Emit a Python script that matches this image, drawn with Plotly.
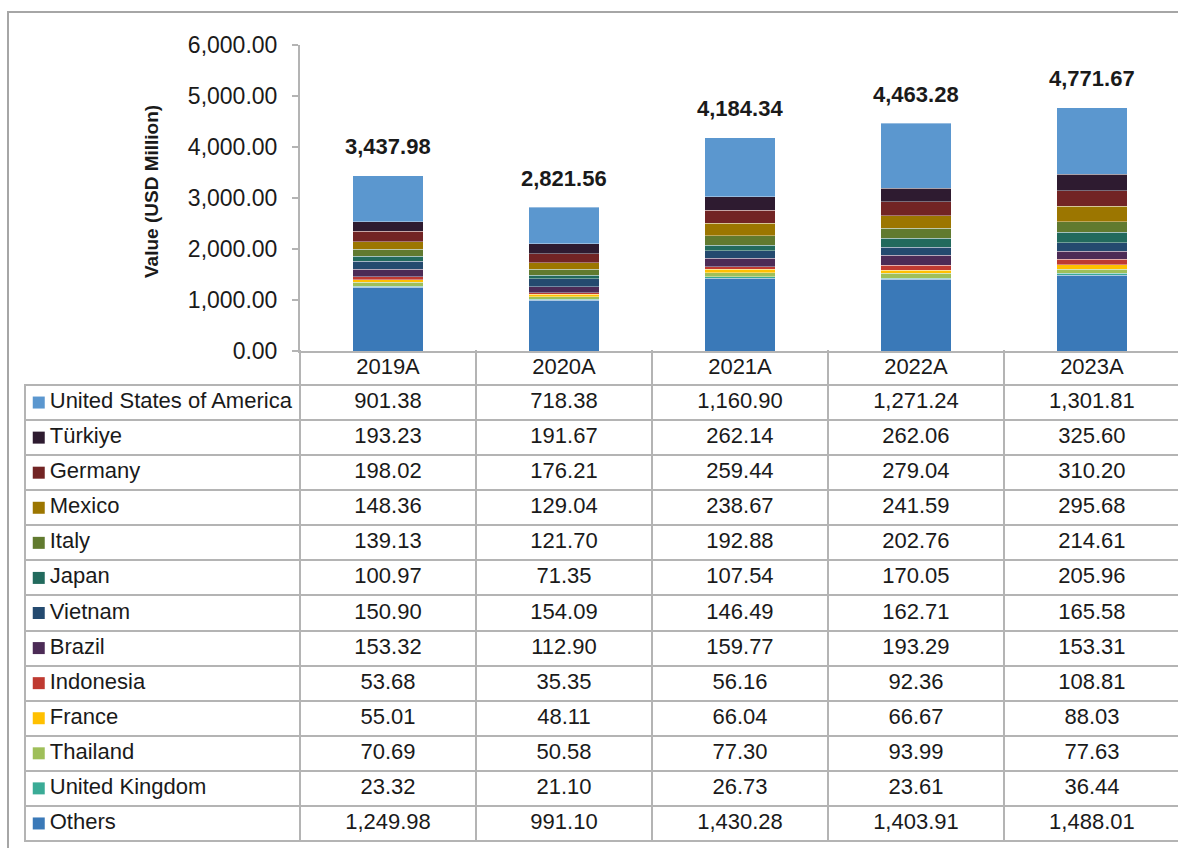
import plotly.graph_objects as go

# ---- data -------------------------------------------------------------
years = ["2019A", "2020A", "2021A", "2022A", "2023A"]

# table order (top to bottom)
countries = [
    "United States of America", "Türkiye", "Germany", "Mexico", "Italy",
    "Japan", "Vietnam", "Brazil", "Indonesia", "France", "Thailand",
    "United Kingdom", "Others",
]

usa = [901.38, 718.38, 1160.90, 1271.24, 1301.81]
turkiye = [193.23, 191.67, 262.14, 262.06, 325.60]
germany = [198.02, 176.21, 259.44, 279.04, 310.20]
mexico = [148.36, 129.04, 238.67, 241.59, 295.68]
italy = [139.13, 121.70, 192.88, 202.76, 214.61]
japan = [100.97, 71.35, 107.54, 170.05, 205.96]
vietnam = [150.90, 154.09, 146.49, 162.71, 165.58]
brazil = [153.32, 112.90, 159.77, 193.29, 153.31]
indonesia = [53.68, 35.35, 56.16, 92.36, 108.81]
france = [55.01, 48.11, 66.04, 66.67, 88.03]
thailand = [70.69, 50.58, 77.30, 93.99, 77.63]
uk = [23.32, 21.10, 26.73, 23.61, 36.44]
others = [1249.98, 991.10, 1430.28, 1403.91, 1488.01]

totals = [3437.98, 2821.56, 4184.34, 4463.28, 4771.67]

series = [usa, turkiye, germany, mexico, italy, japan, vietnam, brazil,
          indonesia, france, thailand, uk, others]

colors = [
    "#5b97cf", "#2e1b30", "#722424", "#9c7600", "#617a2f", "#226a5d",
    "#244a6f", "#4c2b56", "#bf3a31", "#ffc000", "#9fbf59", "#3aab96",
    "#3a79b8",
]

# ---- styling ----------------------------------------------------------
W, H = 1178, 848
LINE = "#b4b4b4"
TXT = "#1a1a1a"
FONT = "Liberation Sans, Arial, sans-serif"
NARROW = "Liberation Sans Narrow, Arial Narrow, Liberation Sans, sans-serif"

plot_x0 = 300 / W
bars_y = [(H - 351) / H, (H - 45) / H]
table_y = [(H - 841) / H, (H - 385) / H]
label_col = [25 / W, 300 / W]
xrange = [-0.5, 4.489]

fig = go.Figure()

# stacked bars: bottom segment is "Others", top is the USA
for name, vals, col in reversed(list(zip(countries, series, colors))):
    fig.add_trace(go.Bar(
        x=years, y=vals, name=name,
        marker=dict(color=col, line=dict(color="rgba(255,255,255,0.45)", width=0.8)),
        xaxis="x", yaxis="y", hoverinfo="x+y+name",
    ))

# total labels above each stack
for yr, tot in zip(years, totals):
    fig.add_annotation(
        x=yr, y=tot, xref="x", yref="y", text=f"<b>{tot:,.2f}</b>",
        showarrow=False, yanchor="middle", yshift=29,
        font=dict(family=NARROW, size=22, color=TXT),
    )

# data table values
tx, ty, tt = [], [], []
for name, vals in zip(countries, series):
    for yr, v in zip(years, vals):
        tx.append(yr)
        ty.append(name)
        tt.append(f"{v:,.2f}")
fig.add_trace(go.Scatter(
    x=tx, y=ty, text=tt, mode="text", xaxis="x2", yaxis="y2",
    textfont=dict(family=FONT, size=22, color=TXT), hoverinfo="skip",
    cliponaxis=False,
))

# legend keys and row names in the first column
fig.add_trace(go.Scatter(
    x=[0.05] * len(countries), y=countries, mode="markers",
    marker=dict(symbol="square", size=12, color=colors, line=dict(width=0)),
    xaxis="x3", yaxis="y2", hoverinfo="skip",
))
fig.add_trace(go.Scatter(
    x=[0.09] * len(countries), y=countries, text=countries, mode="text",
    textposition="middle right", xaxis="x3", yaxis="y2",
    textfont=dict(family=FONT, size=22, color=TXT), hoverinfo="skip",
    cliponaxis=False,
))

fig.update_layout(
    width=W, height=H, autosize=False,
    margin=dict(l=0, r=0, t=0, b=0, pad=0, autoexpand=False),
    paper_bgcolor="white", plot_bgcolor="white",
    barmode="stack", bargap=0.6, showlegend=False,
    xaxis=dict(
        domain=[plot_x0, 1], range=xrange, type="category",
        categoryorder="array", categoryarray=years,
        showline=True, linecolor=LINE, linewidth=2, ticks="", ticklen=0,
        ticklabelstandoff=-5, automargin=False,
        showgrid=False, zeroline=False, anchor="y",
        tickfont=dict(family=FONT, size=22, color=TXT),
    ),
    yaxis=dict(
        domain=bars_y, range=[0, 6000], dtick=1000, tickformat=",.2f",
        showline=True, linecolor=LINE, linewidth=2,
        ticks="outside", ticklen=6, tickcolor=LINE, tickwidth=2,
        ticklabelstandoff=10, automargin=False,
        showgrid=False, zeroline=False, anchor="x",
        tickfont=dict(family=FONT, size=23, color=TXT),
    ),
    xaxis2=dict(
        domain=[plot_x0, 1], range=xrange, type="category",
        categoryorder="array", categoryarray=years,
        side="top", tickson="boundaries", ticks="outside", ticklen=34,
        tickcolor=LINE, tickwidth=2, showticklabels=False,
        showgrid=True, gridcolor=LINE, gridwidth=2, automargin=False,
        showline=False, zeroline=False, anchor="y2",
    ),
    yaxis2=dict(
        domain=table_y, type="category",
        categoryorder="array", categoryarray=countries,
        range=[len(countries) - 0.5, -0.5],
        tickson="boundaries", ticks="", showticklabels=False,
        showgrid=True, gridcolor=LINE, gridwidth=2, automargin=False,
        showline=False, zeroline=False, anchor="x2",
    ),
    xaxis3=dict(
        domain=label_col, range=[0, 1], showgrid=False, showline=False,
        zeroline=False, showticklabels=False, ticks="", anchor="y2",
        automargin=False,
    ),
    annotations=list(fig.layout.annotations) + [
        dict(
            text="<b>Value (USD Million)</b>", textangle=-90,
            x=152 / W, y=(H - 192) / H, xref="paper", yref="paper",
            showarrow=False, xanchor="center", yanchor="middle",
            font=dict(family=NARROW, size=19, color=TXT),
        )
    ],
)

# table outlines
fig.add_shape(type="rect", xref="x3 domain", yref="y2 domain",
              x0=0, x1=1, y0=0, y1=1, line=dict(color=LINE, width=2))
fig.add_shape(type="rect", xref="x2 domain", yref="y2 domain",
              x0=0, x1=1.02, y0=0, y1=1, line=dict(color=LINE, width=2))

# outer frame of the whole graphic
fig.add_shape(type="rect", xref="paper", yref="paper",
              x0=8 / W, x1=1.05, y0=-0.05, y1=(H - 12) / H,
              line=dict(color="#a6a6a6", width=2), layer="below")

fig.write_html("out.html")
